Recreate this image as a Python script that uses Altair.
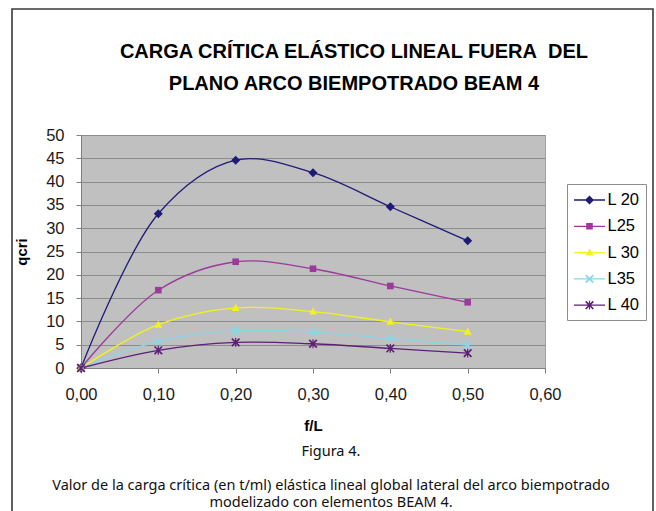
import altair as alt
import pandas as pd

# ---- data ----
fl = [0.0, 0.1, 0.2, 0.3, 0.4, 0.5]
series = ["L 20", "L25", "L 30", "L35", "L 40"]
L20 = [0.0, 33.1, 44.6, 41.9, 34.6, 27.3]
L25 = [0.0, 16.7, 22.8, 21.3, 17.6, 14.1]
L30 = [0.0, 9.3, 12.9, 12.1, 9.9, 7.8]
L35 = [0.0, 5.7, 8.0, 7.7, 6.3, 4.9]
L40 = [0.0, 3.8, 5.5, 5.2, 4.2, 3.2]
x_ticks = [0.0, 0.1, 0.2, 0.3, 0.4, 0.5, 0.6]
y_ticks = [0, 5, 10, 15, 20, 25, 30, 35, 40, 45, 50]

title_lines = ["CARGA CRÍTICA ELÁSTICO LINEAL FUERA\u00a0 DEL", "PLANO ARCO BIEMPOTRADO BEAM 4"]
fig_label = "Figura 4."
caption = ["Valor de la carga crítica (en t/ml) elástica lineal global lateral del arco biempotrado",
           "modelizado con elementos BEAM 4."]

colors = ["#1f1a78", "#9b3a9b", "#f2f21e", "#8ad6e8", "#5e1f78"]

# marker shapes (unit coordinates)
diamond = "M0,-0.45L0.45,0L0,0.45L-0.45,0Z"
square = "M-0.33,-0.33L0.33,-0.33L0.33,0.33L-0.33,0.33Z"
triangle = "M0,-0.42L0.4,0.3L-0.4,0.3Z"
xcross = "M-0.32,-0.44L0.44,0.32L0.32,0.44L-0.44,-0.32ZM0.44,-0.32L-0.32,0.44L-0.44,0.32L0.32,-0.44Z"
vbar = "M-0.06,-0.44L0.06,-0.44L0.06,0.44L-0.06,0.44Z"
markers = [diamond, square, triangle, xcross, xcross + vbar]
legline = "M-1.55,-0.065L1.55,-0.065L1.55,0.065L-1.55,0.065Z"
leg_shapes = [legline + m for m in markers]

rows = []
for name, vals in zip(series, [L20, L25, L30, L35, L40]):
    for f, v in zip(fl, vals):
        rows.append({"fl": f, "q": v, "serie": name})
df = pd.DataFrame(rows)

FONT = "Liberation Sans"

xaxis = alt.Axis(values=x_ticks, tickCount=20, title="f/L",
                 labelExpr="replace(format(datum.value, '.2f'), '.', ',')",
                 grid=False, labelFlush=False, labelOverlap=False,
                 labelPadding=13, titlePadding=16)
yaxis = alt.Axis(values=y_ticks, tickCount=20, title="qcri", grid=True, labelOverlap=False,
                 labelFlush=False, labelPadding=12, titlePadding=16)
xscale = alt.Scale(domain=[0, 0.6], nice=False, zero=False)
yscale = alt.Scale(domain=[0, 50], nice=False)

def xenc():
    return alt.X("fl:Q", scale=xscale, axis=xaxis)

def yenc():
    return alt.Y("q:Q", scale=yscale, axis=yaxis)

cscale = alt.Scale(domain=series, range=colors)

lines = alt.Chart(df).mark_line(interpolate="catmull-rom", strokeWidth=1.3).encode(
    x=xenc(), y=yenc(),
    color=alt.Color("serie:N", scale=cscale, legend=None),
)

points = alt.Chart(df).mark_point(filled=True, size=400, opacity=1).encode(
    x=xenc(), y=yenc(),
    color=alt.Color("serie:N", scale=cscale, legend=None),
    shape=alt.Shape("serie:N", scale=alt.Scale(domain=series, range=markers), legend=None),
)

leg = alt.Legend(orient="none", legendX=486, legendY=49, title=None,
                 symbolSize=400, symbolStrokeWidth=0, symbolOffset=6.5,
                 padding=6, rowPadding=7.3, labelFontSize=16.5, labelFont=FONT,
                 labelColor="#000000", labelOffset=8, strokeColor="#8c8c8c",
                 fillColor="#ffffff", cornerRadius=0)

legend_layer = alt.Chart(df).transform_filter("false").mark_point(filled=True, size=400, opacity=1).encode(
    x=xenc(), y=yenc(),
    color=alt.Color("serie:N", scale=cscale, legend=leg),
    shape=alt.Shape("serie:N", scale=alt.Scale(domain=series, range=leg_shapes), legend=leg),
)

one = alt.Data(values=[{}])
border = alt.Chart(one).mark_rect(fill="transparent", stroke="#3a3a3a", strokeWidth=1.6).encode(
    x=alt.value(-69), x2=alt.value(572), y=alt.value(-126), y2=alt.value(390))

title_style = dict(font=FONT, fontSize=20, fontWeight="bold", color="#000000")
t1 = alt.Chart(one).mark_text(**title_style).encode(
    x=alt.value(273), y=alt.value(-83), text=alt.value(title_lines[0]))
t2 = alt.Chart(one).mark_text(**title_style).encode(
    x=alt.value(273), y=alt.value(-51), text=alt.value(title_lines[1]))

cap_style = dict(font="Noto Sans", fontSize=14.5, color="#111111")
fig_text = alt.Chart(one).mark_text(**cap_style).encode(
    x=alt.value(250), y=alt.value(317), text=alt.value(fig_label))
cap1 = alt.Chart(one).mark_text(**cap_style).encode(
    x=alt.value(250), y=alt.value(351), text=alt.value(caption[0]))
cap2 = alt.Chart(one).mark_text(**cap_style).encode(
    x=alt.value(250), y=alt.value(367.5), text=alt.value(caption[1]))

chart = alt.layer(border, lines, points, legend_layer, t1, t2, fig_text, cap1, cap2).resolve_scale(
    color="independent", shape="independent"
).properties(
    width=464, height=233,
    autosize=alt.AutoSizeParams(type="none"),
    padding={"left": 81, "top": 135, "right": 111, "bottom": 143},
).configure(background="#ffffff").configure_view(
    fill="#c0c0c0", stroke="#a0a0a0", strokeWidth=1
).configure_axis(
    labelFont=FONT, labelFontSize=16.5, labelColor="#1a1a1a",
    titleFont=FONT, titleFontSize=15, titleFontWeight="bold", titleColor="#000000",
    domainColor="#808080", tickColor="#808080", tickSize=5, gridColor="#8c8c8c", gridWidth=1,
)

chart.save("out.html", embed_options={"renderer": "svg", "actions": False})
